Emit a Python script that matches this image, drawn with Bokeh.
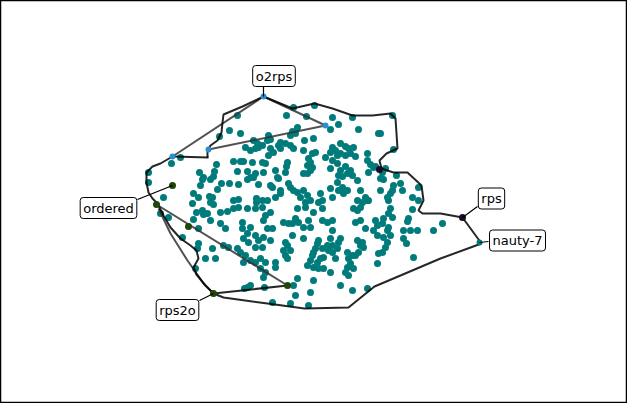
from bokeh.plotting import figure
from bokeh.models import Range1d, Label
from bokeh.embed import file_html
from bokeh.resources import INLINE

# scatter cloud (pixel-like coordinates, y grows downward)
pts = [
(237,115),(229,130),(240,133),(253,140),(257,143),(245,147),(250,150),(255,148),(258,147),(180,157),(171,163),(216,164),(233,161),(240,161),(243,161),(252,162),(148,172),(148,182),(199,172),(214,171),(213,176),(203,177),(202,179),(210,179),(247,171),(237,171),(255,173),(250,177),(247,179),(253,177),(221,183),(229,183),(238,184),(258,184),(200,185),(217,189),(163,197),(209,196),(212,197),(193,193),(198,197),(233,200),(238,199),(256,198),(256,202),(192,203),(210,202),(213,204),(219,136),
(293,107),(314,105),(286,115),(306,116),(332,117),(352,117),(330,129),(338,124),(358,129),(378,133),(297,127),(292,131),(295,133),(290,135),(268,135),(270,139),(267,140),(280,142),(278,145),(285,143),(290,145),(293,148),(304,140),(313,138),(340,143),(345,146),(348,148),(353,147),(332,147),(330,152),(335,150),(337,155),(340,153),(345,155),(350,153),(355,156),(367,153),(367,160),(370,164),(375,166),(262,145),(270,148),(268,155),(280,148),(273,152),(303,150),(312,153),(315,152),(325,157),(308,158),(310,162),(307,165),(312,167),(330,168),(332,160),(337,163),(340,170),(345,166),(350,170),(352,175),(347,173),(342,176),(287,162),(286,166),(285,172),(262,162),(265,163),(263,172),(275,170),(277,177),(278,178),(270,185),(272,187),(288,183),(290,187),(293,190),(303,173),(307,173),(310,170),(297,192),(303,190),(307,195),(300,197),(310,200),(305,202),(280,190),(280,193),(275,197),(267,200),(262,200),(318,202),(320,193),(322,200),(338,175),(337,182),(338,190),(342,187),(343,193),(347,190),(357,180),(360,190),(365,197),(368,200),(368,172),(373,167),(330,188),(332,197),(357,200),(362,202),(367,200),
(392,115),(380,133),(393,149),(382,172),(385,168),(380,178),(383,179),(396,175),(400,183),(402,190),(393,185),(392,190),(390,193),(387,197),(388,200),(418,187),(412,197),(418,200),(380,190),
(196,212),(202,210),(203,214),(207,213),(210,220),(220,212),(227,211),(233,208),(238,207),(247,208),(255,208),(193,219),(198,228),(220,223),(225,228),(242,222),(242,228),(250,227),(247,233),(255,235),(243,238),(160,213),(168,217),(182,237),(198,243),(197,248),(212,248),(223,245),(228,247),(205,258),(215,258),(237,248),(240,252),(245,255),(243,262),(250,260),(255,262),(248,242),(255,247),(258,240),(195,268),(247,287),(250,285),
(262,207),(270,212),(265,215),(263,220),(297,208),(305,207),(313,212),(322,208),(295,218),(292,223),(298,222),(303,227),(283,222),(288,223),(308,220),(310,227),(322,220),(327,222),(332,220),(332,230),(353,208),(357,210),(360,207),(355,222),(360,220),(365,228),(375,220),(377,225),(373,230),(377,235),(267,228),(272,228),(263,237),(270,240),(262,247),(285,242),(287,245),(283,250),(290,250),(285,255),(287,258),(292,235),(303,238),(318,240),(317,243),(315,248),(313,252),(312,255),(322,248),(327,245),(323,257),(320,258),(317,262),(310,260),(307,265),(313,267),(318,268),(323,268),(330,238),(332,245),(328,250),(332,252),(337,248),(338,242),(340,238),(347,252),(352,255),(348,258),(350,263),(353,268),(347,267),(345,272),(348,275),(355,255),(358,252),(360,245),(357,240),(362,242),(363,247),(378,253),(377,263),(335,258),(330,272),(340,285),(352,290),(310,292),(295,295),(272,302),(290,303),(308,305),(313,280),(297,278),(293,285),(260,258),(265,262),(260,268),(265,272),(275,262),(275,267),(263,277),(367,288),(244,288),(264,287),
(390,208),(388,213),(392,217),(383,218),(382,223),(388,227),(387,230),(390,235),(383,237),(387,242),(385,247),(382,252),(412,209),(408,218),(407,221),(403,230),(410,230),(417,230),(433,230),(442,223),(403,238),(406,243),(413,257),
]
X = [p[0] for p in pts]
Y = [p[1] for p in pts]

# special points
blue_x = [263, 172, 208, 325]
blue_y = [96, 156, 149, 125]
green_x = [172, 156, 188, 213, 287]
green_y = [185, 204, 226, 293, 285]
dark_x = [462, 379]
dark_y = [217, 169]
nauty_x = [479]
nauty_y = [242]

# path segments: (xs, ys, color, alpha)
black_paths = [
    ([263,292,314,332,352,372,390,395,397,386,379,381,393,407,421,423,418,422,440,462,481,440,400,374,348,304,267,223,213],
     [96,108,103,108,115,115,113,118,148,153,160,168,172,172,185,200,210,213,213,217,243,258,275,286,307,308,303,297,293]),
    ([213,287], [293,285]),
    ([157,163,170,180,190,196,198,193,196,205,213], [203,215,227,238,245,250,258,267,274,285,293]),
    ([157,152,148,146,146,152,160,172], [203,198,192,182,172,166,163,156]),
    ([263,242,223,222,221,217,210,207,207], [96,106,114,122,132,140,145,150,157]),
    ([172,208], [156,157]),
]
grey_paths = [
    ([287,156], [285,204]),
    ([158,170,187,203,213], [208,233,260,283,293]),
    ([263,172], [96,156]),
    ([208,325], [149,125]),
    ([325,263], [125,96]),
]

labels = ["o2rps", "ordered", "rps", "nauty-7", "rps2o"]
label_x = [273.5, 108, 491, 517, 177]
label_y = [75.5, 207.5, 198, 240, 309.5]
lead_x0 = [263, 137, 477, 488, 199]
lead_y0 = [85, 199, 206, 241, 300]
lead_x1 = [263, 172, 462, 479, 213]
lead_y1 = [96, 185, 217, 242, 293]

p = figure(width=627, height=403, output_backend="svg", toolbar_location=None,
           x_range=Range1d(0, 627), y_range=Range1d(403, 0),
           x_axis_location=None, y_axis_location=None, min_border=0)
p.grid.visible = False
p.outline_line_color = "black"
p.outline_line_width = 1.5
p.background_fill_color = "white"

p.scatter(X, Y, size=7, color="#007b7b", line_color=None)

for xs, ys in grey_paths:
    p.line(xs, ys, line_color="#333333", line_alpha=0.85, line_width=2)
for xs, ys in black_paths:
    p.line(xs, ys, line_color="black", line_alpha=0.85, line_width=2)

p.scatter(blue_x, blue_y, size=6, color="#2a8fd0", line_color=None)
p.scatter(green_x, green_y, size=7, color="#22450a", line_color=None)
p.scatter(dark_x, dark_y, size=7, color="#1e0a26", line_color=None)
p.scatter(nauty_x, nauty_y, size=6, color="#007b7b", line_color=None)

p.segment(lead_x0, lead_y0, lead_x1, lead_y1, line_color="black", line_width=1.2)

for t, lx, ly in zip(labels, label_x, label_y):
    p.add_layout(Label(x=lx, y=ly, text=t, text_align="center", text_baseline="middle",
                       text_font="DejaVu Sans", text_font_size="13px", text_color="black",
                       background_fill_color="white", border_line_color="black",
                       border_line_width=1, padding=3, border_radius=3))

open("out.html", "w").write(file_html(p, INLINE))
